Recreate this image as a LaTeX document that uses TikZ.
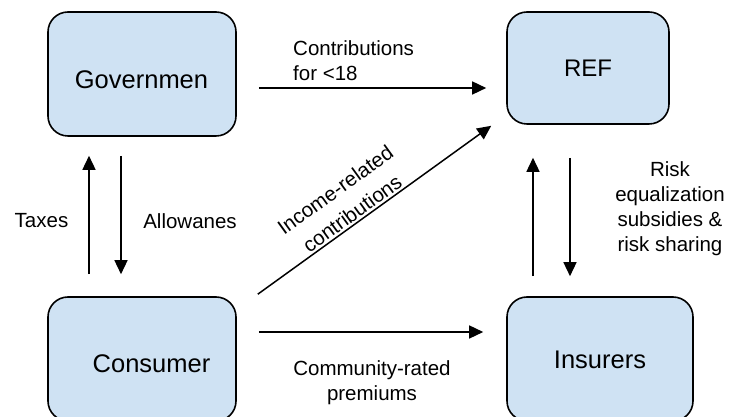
\documentclass[tikz,border=0pt]{standalone}
\usepackage{fontspec}
\setmainfont{Liberation Sans}
\usetikzlibrary{arrows.meta,calc}
\definecolor{boxfill}{HTML}{CFE2F3}
\begin{document}
\begin{tikzpicture}[x=1pt,y=1pt,
  entity/.style={draw=black,line width=1.6pt,fill=boxfill,rounded corners=20pt,inner sep=0pt},
  entitytext/.style={inner sep=0pt,font=\fontsize{25.5}{30}\selectfont},
  flowlabel/.style={inner sep=0pt,align=center,font=\fontsize{20.5}{25}\selectfont},
  arr/.style={line width=1.5pt,-{Triangle[length=14pt,width=13pt]}}]
\useasboundingbox (0,0) rectangle (729,417);
\clip (0,0) rectangle (729,417);
% boxes
\node[entity,minimum width=188pt,minimum height=124pt] (gov) at (142,343) {};
\node[entity,minimum width=162pt,minimum height=112pt] (ref) at (588,349) {};
\node[entity,minimum width=188pt,minimum height=124pt] (cons) at (142,58) {};
\node[entity,minimum width=186pt,minimum height=124pt] (ins) at (600,58) {};
% box texts
\node[entitytext] (govt) at (141.5,337) {Governmen};
\node[entitytext,font=\fontsize{24}{28}\selectfont] (reft) at (588,349) {REF};
\node[entitytext] (const) at (151.5,53) {Consumer};
\node[entitytext] (inst) at (600,57) {Insurers};
% arrows
\draw[arr] ($(gov.east)+(22,-14)$) -- ($(ref.west)+(-20,-20)$);
\draw[arr] ($(cons.east)+(22,27)$) -- ($(ins.west)+(-23,27)$);
\draw[arr] ($(cons.north east)+(21,2)$) -- node[flowlabel,font=\fontsize{20.5}{29}\selectfont,sloped,above=2pt,pos=0.43] (inc) {Income-related\\contributions} ($(ref.south west)+(-15,-1)$);
\draw[arr] ($(cons.north)+(-53,22)$) -- ($(gov.south)+(-53,-19)$);
\draw[arr] ($(gov.south)+(-21,-19)$) -- ($(cons.north)+(-21,22)$);
\draw[arr] ($(ins.north)+(-67,20)$) -- ($(ref.south)+(-55,-33)$);
\draw[arr] ($(ref.south)+(-18,-33)$) -- ($(ins.north)+(-30,20)$);
% labels
\node[flowlabel,anchor=west,align=left] (contr) at (293,356) {Contributions\\for <18};
\node[flowlabel] (taxes) at (41.5,196) {Taxes};
\node[flowlabel] (allow) at (190,196) {Allowanes};
\node[flowlabel] (comm) at (372,34) {Community-rated\\premiums};
\node[flowlabel] (risk) at (670,208) {Risk\\equalization\\subsidies \&\\risk sharing};
\end{tikzpicture}
\end{document}
